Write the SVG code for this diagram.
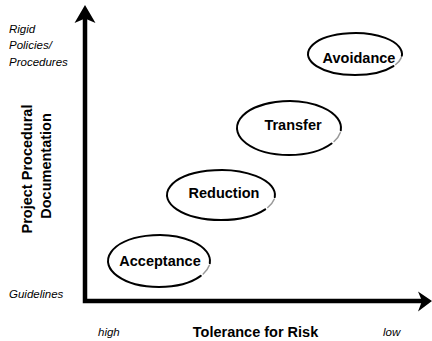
<svg xmlns="http://www.w3.org/2000/svg" width="432" height="341" viewBox="0 0 432 341">
<style>
.ring{fill:none;stroke:#000;stroke-width:2;stroke-linecap:round}
.fade{fill:none;stroke:#999;stroke-width:1.5;stroke-linecap:round}
.node{font-family:"Liberation Sans",Arial,sans-serif;font-weight:bold;font-size:14.5px;fill:#000;text-anchor:middle}
.axis{font-family:"Liberation Sans",Arial,sans-serif;font-weight:bold;font-size:14.5px;fill:#000;text-anchor:middle}
.tick{font-family:"Liberation Sans",Arial,sans-serif;font-style:italic;font-size:11.5px;fill:#000}
</style>
<rect width="432" height="341" fill="#fff"/>
<g id="connectors">
<path d="M85,18 L85,301 L422,301" fill="none" stroke="#000" stroke-width="4.5" stroke-linejoin="miter"/>
<path d="M85,5 L95.5,23 L85,18.5 L74.5,23 Z" fill="#000"/>
<path d="M432,301 L418,291.5 L422,301 L418,311.5 Z" fill="#000"/>
</g>
<g id="node-avoidance">
<path class="ring" d="M393.5,66.05 A47,21 0 1 1 401.82,55.83"/>
<path class="fade" d="M401.29,57.65 A47,21 0 0 1 395.7,64.5"/>
<text class="node" x="359" y="63">Avoidance</text>
</g>
<g id="node-transfer">
<path class="ring" d="M331.6,143.49 A52,27 0 1 1 340.8,130.35"/>
<path class="fade" d="M340.21,132.69 A52,27 0 0 1 334.03,141.5"/>
<text class="node" x="293" y="130">Transfer</text>
</g>
<g id="node-reduction">
<path class="ring" d="M265.24,209.34 A54,25 0 1 1 274.79,197.18"/>
<path class="fade" d="M274.18,199.34 A54,25 0 0 1 267.76,207.5"/>
<text class="node" x="224" y="198">Reduction</text>
</g>
<g id="node-acceptance">
<path class="ring" d="M200.78,275.91 A51,26 0 1 1 209.81,263.27"/>
<path class="fade" d="M209.22,265.51 A51,26 0 0 1 203.17,274"/>
<text class="node" x="160" y="266">Acceptance</text>
</g>
<g id="labels">
<text class="tick" x="9" y="33">Rigid</text>
<text class="tick" x="9" y="49">Policies/</text>
<text class="tick" x="9" y="66">Procedures</text>
<text class="tick" x="9" y="298">Guidelines</text>
<text class="tick" x="98" y="336" font-size="12">high</text>
<text class="tick" x="383" y="336" font-size="12">low</text>
<text class="axis" x="255.5" y="337">Tolerance for Risk</text>
<text class="axis" x="32" y="169" transform="rotate(-90 32 169)">Project Procedural</text>
<text class="axis" x="51" y="166" transform="rotate(-90 51 166)">Documentation</text>
</g>
</svg>
